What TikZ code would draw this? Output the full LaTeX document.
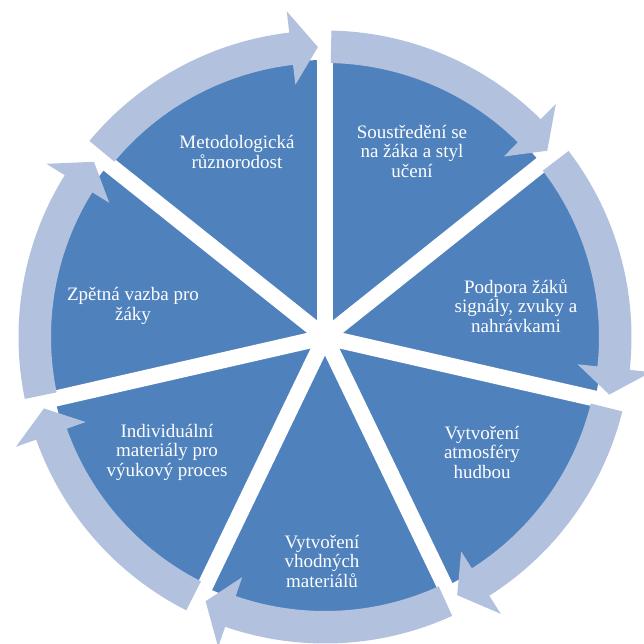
\documentclass[tikz,border=0pt]{standalone}
\usepackage{fontspec}
\setmainfont{Liberation Serif}
\definecolor{pieblue}{RGB}{79,129,189}
\definecolor{arrowblue}{RGB}{178,194,222}
\begin{document}
\begin{tikzpicture}[x=1pt,y=1pt,
  lbl/.style={text=white, font=\fontsize{19}{19.5}\selectfont, align=center, inner sep=0pt}]
\useasboundingbox (-325pt,-307pt) rectangle (319pt,337pt);
\clip (-325pt,-307pt) rectangle (319pt,337pt);
\fill[pieblue] (0,0) circle (277pt);
\foreach \k in {0,...,6}{
  \draw[white, line width=16pt] (0,0) -- ({90-51.4286*\k}:285pt);
}
\foreach \k in {0,...,6}{
  \pgfmathsetmacro\sa{90-51.4286*\k-1.2}
  \pgfmathsetmacro\ta{90-51.4286*(\k+1)+1.4}
  \pgfmathsetmacro\ba{\ta+5.3}
  \fill[arrowblue] (\sa:274pt) arc[start angle=\sa, end angle=\ba, radius=274pt]
     -- (\ba:254pt) -- (\ta:290pt) -- (\ba:328pt) -- (\ba:306.5pt)
     arc[start angle=\ba, end angle=\sa, radius=306.5pt] -- cycle;
}
\node[lbl] (n1) at (-88pt,185pt) {Metodologická\\různorodost};
\node[lbl] (n2) at (87pt,186pt) {Soustředění se\\na žáka a styl\\učení};
\node[lbl] (n3) at (191pt,31pt) {Podpora žáků\\signály, zvuky a\\nahrávkami};
\node[lbl] (n4) at (157pt,-115pt) {Vytvoření\\atmosféry\\hudbou};
\node[lbl] (n5) at (-3pt,-224pt) {Vytvoření\\vhodných\\materiálů};
\node[lbl] (n6) at (-158pt,-115pt) {Individuální\\materiály pro\\výukový proces};
\node[lbl] (n7) at (-192pt,31pt) {Zpětná vazba pro\\žáky};
\end{tikzpicture}
\end{document}
